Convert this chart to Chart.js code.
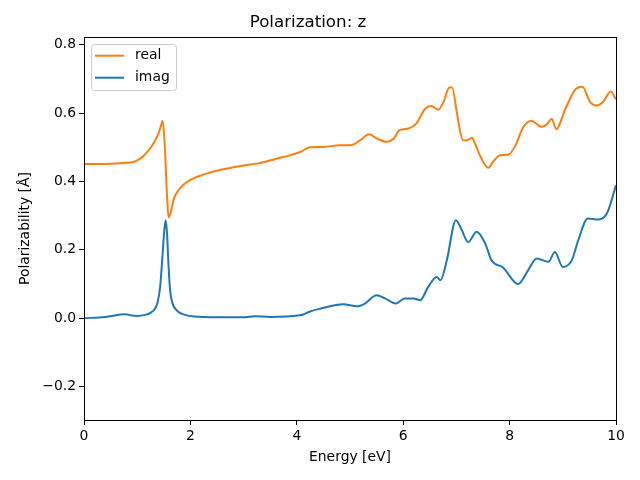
<!DOCTYPE html>
<html>
<head>
<meta charset="utf-8">
<script src="https://cdn.jsdelivr.net/npm/chart.js@4.4.1/dist/chart.umd.min.js"></script>
<style>
  html, body { margin: 0; padding: 0; background: #ffffff; }
  canvas { display: block; }
</style>
</head>
<body>
<canvas id="c" width="640" height="480"></canvas>
<script>
const energyReal = [0, 0.5, 0.8, 0.9, 1.0, 1.1, 1.2, 1.3, 1.4, 1.45, 1.48, 1.52, 1.56, 1.59, 1.63, 1.69, 1.78, 1.88, 2.0, 2.2, 2.4, 2.62, 3.0, 3.28, 3.6, 3.9, 4.09, 4.2, 4.25, 4.5, 4.81, 5.03, 5.2, 5.36, 5.5, 5.69, 5.82, 5.93, 6.1, 6.25, 6.41, 6.53, 6.66, 6.75, 6.87, 6.92, 7.0, 7.06, 7.12, 7.2, 7.29, 7.35, 7.44, 7.6, 7.7, 7.82, 7.98, 8.1, 8.26, 8.41, 8.6, 8.7, 8.79, 8.88, 9.04, 9.23, 9.37, 9.51, 9.64, 9.76, 9.9, 10];
const realValues = [0.451, 0.452, 0.455, 0.456, 0.462, 0.472, 0.488, 0.51, 0.54, 0.565, 0.578, 0.50, 0.36, 0.295, 0.31, 0.35, 0.375, 0.392, 0.405, 0.418, 0.428, 0.436, 0.447, 0.453, 0.466, 0.478, 0.488, 0.498, 0.500, 0.501, 0.506, 0.507, 0.522, 0.538, 0.526, 0.516, 0.525, 0.55, 0.555, 0.570, 0.612, 0.621, 0.610, 0.63, 0.675, 0.675, 0.61, 0.555, 0.521, 0.52, 0.528, 0.511, 0.477, 0.44, 0.46, 0.477, 0.479, 0.502, 0.56, 0.578, 0.56, 0.567, 0.583, 0.553, 0.609, 0.668, 0.677, 0.633, 0.622, 0.633, 0.663, 0.64];

const energyImag = [0, 0.4, 0.78, 0.9, 1.0, 1.15, 1.25, 1.32, 1.38, 1.43, 1.47, 1.5, 1.535, 1.56, 1.59, 1.62, 1.66, 1.75, 1.9, 2.07, 2.5, 3.0, 3.21, 3.5, 4.06, 4.12, 4.25, 4.44, 4.87, 5.13, 5.28, 5.5, 5.66, 5.86, 6.03, 6.19, 6.32, 6.47, 6.63, 6.7, 6.82, 6.99, 7.1, 7.22, 7.38, 7.54, 7.66, 7.88, 8.16, 8.35, 8.51, 8.73, 8.85, 9.0, 9.17, 9.29, 9.47, 9.67, 9.83, 10];
const imagValues = [0.0, 0.004, 0.012, 0.008, 0.007, 0.01, 0.016, 0.025, 0.045, 0.09, 0.17, 0.24, 0.287, 0.25, 0.15, 0.08, 0.045, 0.022, 0.01, 0.005, 0.003, 0.003, 0.006, 0.004, 0.009, 0.011, 0.02, 0.028, 0.041, 0.035, 0.043, 0.067, 0.058, 0.043, 0.058, 0.058, 0.053, 0.092, 0.121, 0.111, 0.17, 0.287, 0.258, 0.223, 0.253, 0.219, 0.17, 0.148, 0.10, 0.141, 0.175, 0.165, 0.194, 0.15, 0.17, 0.228, 0.292, 0.289, 0.307, 0.389];

const yTicks = [-0.2, 0.0, 0.2, 0.4, 0.6, 0.8];
const xTicks = [0, 2, 4, 6, 8, 10];
const seriesNames = ['real', 'imag'];
const seriesColors = ['#ff7f0e', '#1f77b4'];

const FONT = "'DejaVu Sans', sans-serif";

function pts(xs, ys) { return xs.map((x, i) => ({ x: x, y: ys[i] })); }

const frame = {
  id: 'frame',
  afterDraw(chart) {
    const { ctx, chartArea: a } = chart;
    ctx.save();
    ctx.strokeStyle = '#000';
    ctx.lineWidth = 1;
    ctx.strokeRect(Math.round(a.left) + 0.5, Math.round(a.top) + 0.5, Math.round(a.right - a.left), Math.round(a.bottom - a.top));
    // legend
    const bx = 91.5, by = 44.5, bw = 85, bh = 46;
    ctx.fillStyle = 'rgba(255,255,255,0.8)';
    ctx.strokeStyle = '#cccccc';
    ctx.lineWidth = 1;
    const r = 3;
    ctx.beginPath();
    ctx.moveTo(bx + r, by);
    ctx.lineTo(bx + bw - r, by);
    ctx.arcTo(bx + bw, by, bx + bw, by + r, r);
    ctx.lineTo(bx + bw, by + bh - r);
    ctx.arcTo(bx + bw, by + bh, bx + bw - r, by + bh, r);
    ctx.lineTo(bx + r, by + bh);
    ctx.arcTo(bx, by + bh, bx, by + bh - r, r);
    ctx.lineTo(bx, by + r);
    ctx.arcTo(bx, by, bx + r, by, r);
    ctx.closePath();
    ctx.fill();
    ctx.stroke();
    ctx.font = '13.9px ' + FONT;
    ctx.textBaseline = 'middle';
    ctx.textAlign = 'left';
    seriesNames.forEach((n, i) => {
      const yy = 55.7 + i * 22;
      ctx.strokeStyle = seriesColors[i];
      ctx.lineWidth = 2;
      ctx.beginPath();
      ctx.moveTo(95, yy);
      ctx.lineTo(124, yy);
      ctx.stroke();
      ctx.fillStyle = '#000';
      ctx.fillText(n, 135, yy);
    });
    ctx.restore();
  }
};

new Chart(document.getElementById('c'), {
  type: 'line',
  data: {
    datasets: [
      { label: seriesNames[0], data: pts(energyReal, realValues), borderColor: seriesColors[0], backgroundColor: seriesColors[0], borderWidth: 2, pointRadius: 0, cubicInterpolationMode: 'monotone', fill: false },
      { label: seriesNames[1], data: pts(energyImag, imagValues), borderColor: seriesColors[1], backgroundColor: seriesColors[1], borderWidth: 2, pointRadius: 0, cubicInterpolationMode: 'monotone', fill: false }
    ]
  },
  options: {
    responsive: false,
    animation: false,
    devicePixelRatio: 1,
    layout: { padding: { top: 0, right: 24, bottom: 0, left: 0 } },
    plugins: {
      legend: { display: false },
      tooltip: { enabled: false },
      title: {
        display: true,
        text: 'Polarization: z',
        color: '#000',
        font: { family: FONT, size: 16.7, weight: 'normal' },
        padding: { top: 13, bottom: 4 }
      }
    },
    scales: {
      x: {
        type: 'linear',
        min: 0, max: 10,
        afterBuildTicks(s) { s.ticks = xTicks.map(v => ({ value: v })); },
        afterFit(s) { s.height = 60; },
        grid: { display: true, drawOnChartArea: false, drawTicks: true, tickLength: 5, tickColor: '#000', tickWidth: 1 },
        border: { display: true, color: '#000', width: 1 },
        ticks: { color: '#000', font: { family: FONT, size: 13.9 }, padding: 3, maxRotation: 0, callback: v => String(v) },
        title: { display: true, text: 'Energy [eV]', color: '#000', font: { family: FONT, size: 13.9 }, padding: { top: 0, bottom: 14.7 } }
      },
      y: {
        type: 'linear',
        min: -0.2975, max: 0.8225,
        afterBuildTicks(s) { s.ticks = yTicks.map(v => ({ value: v })); },
        afterFit(s) { s.width = 84; },
        grid: { display: true, drawOnChartArea: false, drawTicks: true, tickLength: 5, tickColor: '#000', tickWidth: 1 },
        border: { display: true, color: '#000', width: 1 },
        ticks: { color: '#000', font: { family: FONT, size: 13.9 }, padding: 3, callback: v => (v < 0 ? '\u2212' : '') + Math.abs(v).toFixed(1) },
        title: { display: true, text: 'Polarizability [Å]', color: '#000', font: { family: FONT, size: 13.9 }, padding: { top: 16.7, bottom: 0 } }
      }
    }
  },
  plugins: [frame]
});
</script>
</body>
</html>
